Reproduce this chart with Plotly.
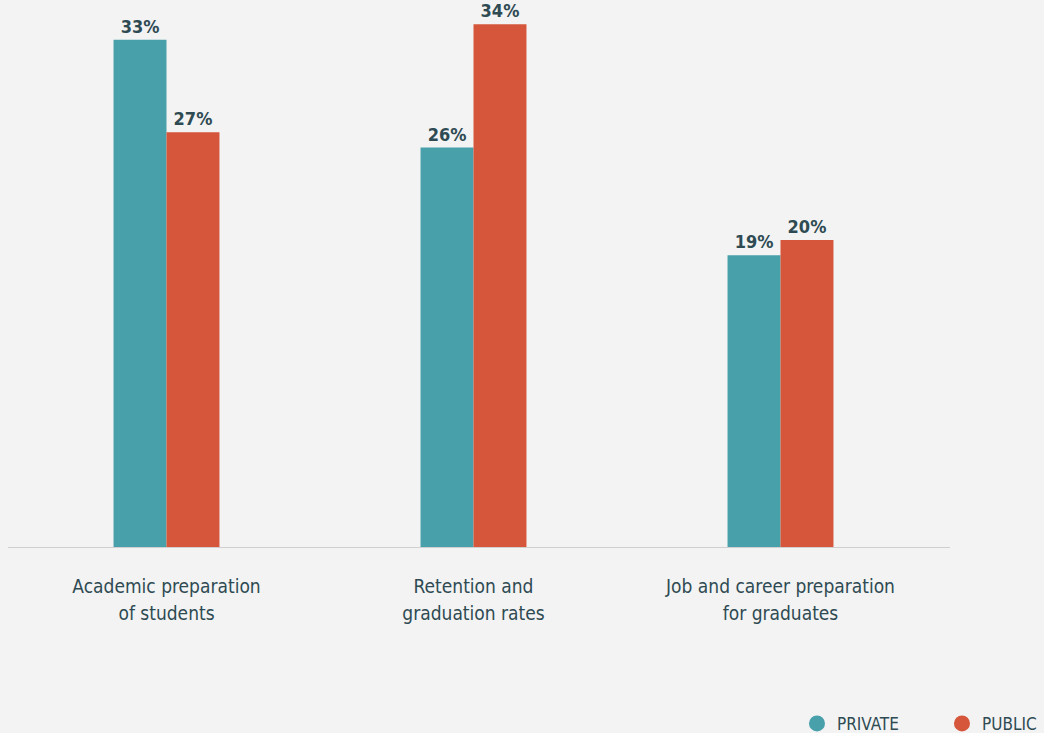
import plotly.graph_objects as go

categories = ["Academic preparation<br>of students",
              "Retention and<br>graduation rates",
              "Job and career preparation<br>for graduates"]
private_pct = [33, 26, 19]
public_pct = [27, 34, 20]

TEAL = "#48a0ab"
ORANGE = "#d5563a"
INK = "#2e4a52"
BG = "#f3f3f3"
FONT = "DejaVu Sans Condensed, Liberation Sans Narrow, Roboto, sans-serif"

fig = go.Figure()
for name, vals, color in [("PRIVATE", private_pct, TEAL), ("PUBLIC", public_pct, ORANGE)]:
    fig.add_trace(go.Bar(
        x=categories, y=vals, name=name, marker_color=color, marker_line_width=0,
        text=[f"{v}%" for v in vals], textposition="outside", cliponaxis=False,
        textfont=dict(family=FONT, size=18, color=INK, weight="bold"),
        showlegend=False,
    ))
    # circular legend swatches
    fig.add_trace(go.Scatter(
        x=[None], y=[None], mode="markers", name=name,
        marker=dict(symbol="circle", size=17, color=color),
    ))

# tick text: smaller glyphs inside a larger line height
ticktext = [f'<span style="font-size:19px">{c}</span>' for c in categories]

fig.update_layout(
    width=1044, height=733,
    margin=dict(l=13, r=110, t=0, b=185, autoexpand=False),
    paper_bgcolor=BG, plot_bgcolor=BG,
    barmode="group", bargap=0.655, bargroupgap=0,
    font=dict(family=FONT, color=INK),
    showlegend=True,
    legend=dict(orientation="h", xref="container", yref="paper",
                x=0.7634, xanchor="left", y=-0.321, yanchor="middle",
                font=dict(family=FONT, size=17, color=INK),
                itemwidth=30, entrywidth=100, tracegroupgap=0,
                bgcolor="rgba(0,0,0,0)"),
)
fig.update_xaxes(showgrid=False, zeroline=False, showline=False, ticks="",
                 tickmode="array", tickvals=categories, ticktext=ticktext,
                 tickfont=dict(family=FONT, size=21.5, color=INK),
                 ticklabelstandoff=22, range=[-0.5, 2.5])
fig.update_yaxes(range=[0, 35.58], visible=False, showgrid=False, zeroline=False)

# baseline rule spanning slightly past the plot area
fig.add_shape(type="line", xref="paper", yref="y", x0=-0.0054, x1=1.0174, y0=0, y1=0,
              line=dict(color="#cfcfcf", width=2), layer="above")

fig.write_html("out.html")
